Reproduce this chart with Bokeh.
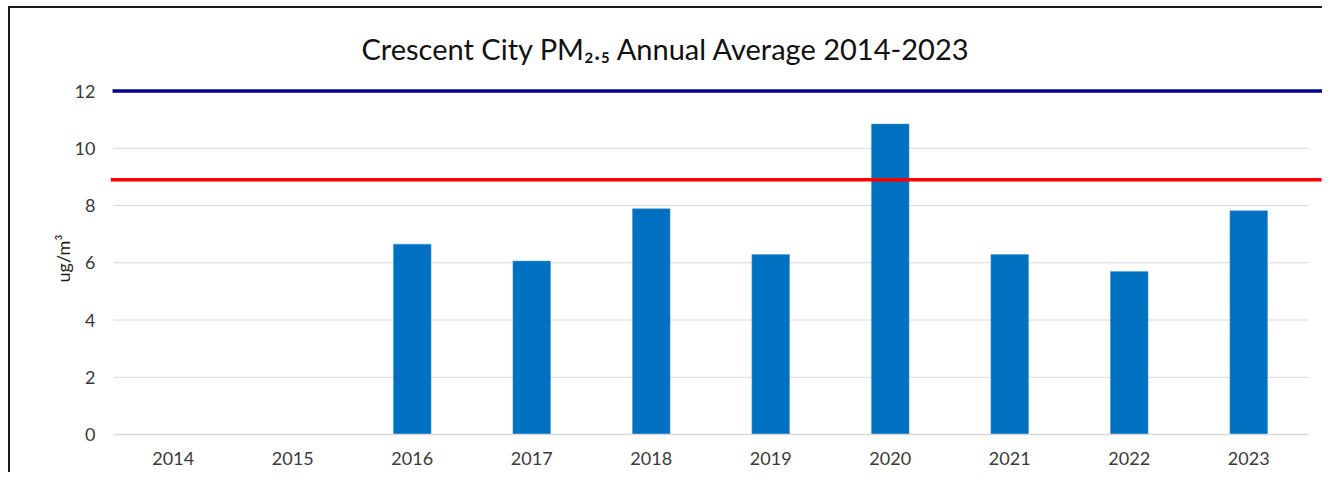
from bokeh.plotting import figure
from bokeh.models import Range1d, FixedTicker
from bokeh.embed import file_html
from bokeh.resources import INLINE

# ---- data ----
years = ["2014", "2015", "2016", "2017", "2018", "2019", "2020", "2021", "2022", "2023"]
pm25 = [None, None, 6.65, 6.06, 7.89, 6.29, 10.85, 6.29, 5.70, 7.82]
y_ticks = [0, 2, 4, 6, 8, 10, 12]
grid_vals = [2, 4, 6, 8, 10]
standard_old = 12.0   # blue reference line
standard_new = 8.9    # red reference line
title_text = "Crescent City PM\u2082.\u2085 Annual Average 2014-2023"
y_label = "ug/m\u00b3"

FONT = "Lato"

p = figure(width=1314, height=466, output_backend="svg", toolbar_location=None,
           x_range=Range1d(-0.025, 10.134), y_range=Range1d(0, 12.3),
           min_border_left=100, min_border_right=0, min_border_top=74, min_border_bottom=40)
p.outline_line_color = None
p.background_fill_color = "white"
p.border_fill_color = "white"
p.xgrid.visible = False
p.ygrid.visible = False
p.styles = {"border-top": "2px solid #1a1a1a", "border-left": "2px solid #1a1a1a",
            "border-right": "0px none white", "border-bottom": "0px none white",
            "outline": "none", "box-shadow": "none",
            "margin-top": "6px", "margin-left": "8px"}

# title
p.title.text = title_text
p.title.align = "left"
p.title.offset = 251
p.title.text_font = FONT
p.title.text_font_size = "29px"
p.title.text_font_style = "normal"
p.title.text_color = "#111111"
p.title.standoff = 33

# gridlines across the category span
p.segment(x0=[0] * len(grid_vals), x1=[len(years)] * len(grid_vals), y0=grid_vals, y1=grid_vals,
          line_color="#D9D9D9", line_width=1)

# bars
xs = [i + 0.5 for i, v in enumerate(pm25) if v is not None]
tops = [v for v in pm25 if v is not None]
p.vbar(x=xs, top=tops, width=0.315, bottom=0, fill_color="#0070C0", line_color="#4F9AD6", line_width=0.5)

# reference lines
p.segment(x0=[-0.025], x1=[10.11], y0=[standard_new], y1=[standard_new], line_color="#FF0000", line_width=3.5)
p.segment(x0=[-0.008], x1=[10.134], y0=[standard_old], y1=[standard_old], line_color="#000088", line_width=3.5)

# x axis
xa = p.xaxis[0]
xa.ticker = FixedTicker(ticks=[i + 0.5 for i in range(len(years))])
xa.major_label_overrides = {i + 0.5: y for i, y in enumerate(years)}
xa.bounds = (0, len(years))
xa.axis_line_color = "#D9D9D9"
xa.axis_line_width = 1.5
xa.major_tick_line_color = None
xa.minor_tick_line_color = None
xa.major_tick_out = 0
xa.major_tick_in = 0
xa.major_label_standoff = 17
xa.major_label_text_font = FONT
xa.major_label_text_font_size = "18px"
xa.major_label_text_color = "#3A3A3A"

# y axis
ya = p.yaxis[0]
ya.ticker = FixedTicker(ticks=y_ticks)
ya.axis_line_color = None
ya.major_tick_line_color = None
ya.minor_tick_line_color = None
ya.major_tick_out = 0
ya.major_tick_in = 0
ya.major_label_standoff = 15
ya.major_label_text_font = FONT
ya.major_label_text_font_size = "18px"
ya.major_label_text_color = "#3A3A3A"
ya.axis_label = y_label
ya.axis_label_text_font = FONT
ya.axis_label_text_font_size = "18px"
ya.axis_label_text_font_style = "normal"
ya.axis_label_text_color = "#1a1a1a"
ya.axis_label_standoff = -2

open("out.html", "w").write(file_html(p, INLINE))
